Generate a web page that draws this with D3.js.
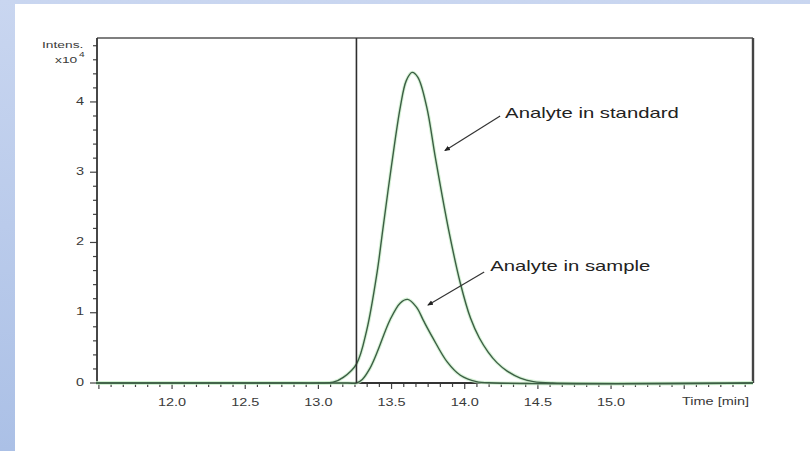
<!DOCTYPE html>
<html>
<head>
<meta charset="utf-8">
<script src="https://cdn.jsdelivr.net/npm/d3@7"></script>
<style>
  html, body { margin: 0; padding: 0; }
  body { width: 810px; height: 451px; overflow: hidden; }
  svg { display: block; }
</style>
</head>
<body>
<script>
// ---- data ----
const xTickValues = [12.0, 12.5, 13.0, 13.5, 14.0, 14.5, 15.0];
const xTickLabels = ["12.0", "12.5", "13.0", "13.5", "14.0", "14.5", "15.0"];
const yTickValues = [0, 1, 2, 3, 4];
const yTickLabels = ["0", "1", "2", "3", "4"];

const standardTime  = [11.48, 12.80, 13.00, 13.10, 13.17, 13.26, 13.33, 13.40, 13.44, 13.50, 13.56, 13.60, 13.64, 13.68, 13.74, 13.80, 13.89, 13.97, 14.04, 14.10, 14.16, 14.22, 14.29, 14.38, 14.47, 14.60, 15.97];
const standardInten = [0.00,  0.00,  0.00,  0.01,  0.08,  0.27,  0.75,  1.56,  2.18,  3.10,  3.93,  4.30,  4.42,  4.35,  3.93,  3.20,  2.18,  1.42,  0.92,  0.64,  0.44,  0.29,  0.17,  0.07,  0.02,  0.00,  0.00];

const sampleTime  = [11.48, 13.20, 13.26, 13.30, 13.35, 13.40, 13.49, 13.56, 13.61, 13.67, 13.72, 13.78, 13.88, 13.97, 14.08, 14.20, 15.97];
const sampleInten = [0.00,  0.00,  0.00,  0.05,  0.20,  0.43,  0.90,  1.14,  1.19,  1.08,  0.88,  0.65,  0.30,  0.11,  0.02,  0.00,  0.00];

const markerTime = 13.26;

const annoText  = ["Analyte in standard", "Analyte in sample"];
const annoTextT = [14.276, 14.174];
const annoTextI = [3.83, 1.65];
const annoFromT = [14.242, 14.133];
const annoFromI = [3.80, 1.58];
const annoToT   = [13.866, 13.750];
const annoToI   = [3.31, 1.11];

// ---- drawing ----
const W = 810, H = 451;
const m = { left: 97, top: 38, right: 753, bottom: 383 };
const SX = 1.45; // horizontal stretch of the reference's text

const svg = d3.select("body").append("svg").attr("width", W).attr("height", H);
const defs = svg.append("defs");
const g1 = defs.append("linearGradient").attr("id", "bg").attr("x1", 0).attr("y1", 0).attr("x2", 0).attr("y2", 1);
g1.append("stop").attr("offset", 0).attr("stop-color", "#c9d6f0");
g1.append("stop").attr("offset", 1).attr("stop-color", "#abc0e6");

svg.append("rect").attr("width", W).attr("height", H).attr("fill", "url(#bg)");
svg.append("rect").attr("x", 15).attr("y", 4).attr("width", W - 15).attr("height", H - 4).attr("fill", "#ffffff");

const x = d3.scaleLinear().domain([11.487, 15.97]).range([m.left, m.right]);
const y = d3.scaleLinear().domain([0, 4.91]).range([m.bottom, m.top]);

function stext(sel, px, py, str, size, anchor, color) {
  return sel.append("text")
    .attr("transform", `translate(${px},${py}) scale(${SX},1)`)
    .attr("font-family", "Liberation Sans, Arial, sans-serif")
    .attr("font-size", size)
    .attr("fill", color || "#333")
    .attr("text-anchor", anchor || "start")
    .attr("dominant-baseline", "middle")
    .text(str);
}

// frame (top / right)
svg.append("line").attr("x1", m.left).attr("x2", m.right).attr("y1", m.top).attr("y2", m.top)
  .attr("stroke", "#555").attr("stroke-width", 1.6);
svg.append("line").attr("x1", m.right).attr("x2", m.right).attr("y1", m.top).attr("y2", m.bottom)
  .attr("stroke", "#444").attr("stroke-width", 2.4);

// x axis ticks
const xMinor = d3.range(Math.ceil(11.487 * 12), Math.floor(15.97 * 12) + 1).map(k => k / 12);
const xa = svg.append("g");
xa.selectAll("line").data(xMinor).join("line")
  .attr("x1", d => x(d)).attr("x2", d => x(d))
  .attr("y1", m.bottom).attr("y2", d => (Math.abs(d * 2 - Math.round(d * 2)) < 1e-6 ? m.bottom + 6 : m.bottom + 4))
  .attr("stroke", "#444").attr("stroke-width", 1.2);
xTickValues.forEach((v, i) => stext(xa, x(v), m.bottom + 20, xTickLabels[i], 10, "middle", "#3a3a3a"));
stext(xa, 682, m.bottom + 19, "Time [min]", 10, "start", "#3a3a3a");

// y axis ticks
const yMinor = d3.range(0, 25).map(k => k / 5);
const ya = svg.append("g");
ya.selectAll("line").data(yMinor).join("line")
  .attr("y1", d => y(d)).attr("y2", d => y(d))
  .attr("x1", m.left).attr("x2", d => (Math.abs(d - Math.round(d)) < 1e-6 ? m.left - 7 : m.left - 4))
  .attr("stroke", "#444").attr("stroke-width", 1.2);
yTickValues.forEach((v, i) => stext(ya, 84, y(v), yTickLabels[i], 10, "end", "#3a3a3a"));
stext(ya, 42, m.top + 7, "Intens.", 9.5, "start", "#3a3a3a");
stext(ya, 55, m.top + 22, "x10", 9.5, "start", "#3a3a3a");
stext(ya, 79, m.top + 17, "4", 7, "start", "#3a3a3a");

// axes lines
svg.append("line").attr("x1", m.left).attr("x2", m.left).attr("y1", m.top).attr("y2", m.bottom)
  .attr("stroke", "#333").attr("stroke-width", 1.8);
svg.append("line").attr("x1", m.left).attr("x2", m.right).attr("y1", m.bottom).attr("y2", m.bottom)
  .attr("stroke", "#333").attr("stroke-width", 1.8);

// curves
const line = d3.line().x(d => x(d[0])).y(d => y(d[1])).curve(d3.curveCatmullRom.alpha(0.5));
const series = [d3.zip(standardTime, standardInten), d3.zip(sampleTime, sampleInten)];
series.forEach(s => {
  svg.append("path").attr("d", line(s)).attr("fill", "none")
    .attr("stroke", "#c6ecc6").attr("stroke-width", 3.5).attr("stroke-opacity", 0.7);
});
series.forEach(s => {
  svg.append("path").attr("d", line(s)).attr("fill", "none")
    .attr("stroke", "#3c5e44").attr("stroke-width", 1.4);
});

// marker line
svg.append("line").attr("x1", x(markerTime)).attr("x2", x(markerTime)).attr("y1", m.top).attr("y2", m.bottom)
  .attr("stroke", "#2e2e2e").attr("stroke-width", 1.6);

// annotations
defs.append("marker").attr("id", "ah").attr("viewBox", "0 0 10 10").attr("refX", 8).attr("refY", 5)
  .attr("markerWidth", 5).attr("markerHeight", 5).attr("orient", "auto")
  .append("path").attr("d", "M0,1 L10,5 L0,9 Z").attr("fill", "#222");
annoText.forEach((t, i) => {
  svg.append("line")
    .attr("x1", x(annoFromT[i])).attr("y1", y(annoFromI[i]))
    .attr("x2", x(annoToT[i])).attr("y2", y(annoToI[i]))
    .attr("stroke", "#333").attr("stroke-width", 1.2).attr("marker-end", "url(#ah)");
  stext(svg, x(annoTextT[i]), y(annoTextI[i]), t, 14, "start", "#222");
});
</script>
</body>
</html>
